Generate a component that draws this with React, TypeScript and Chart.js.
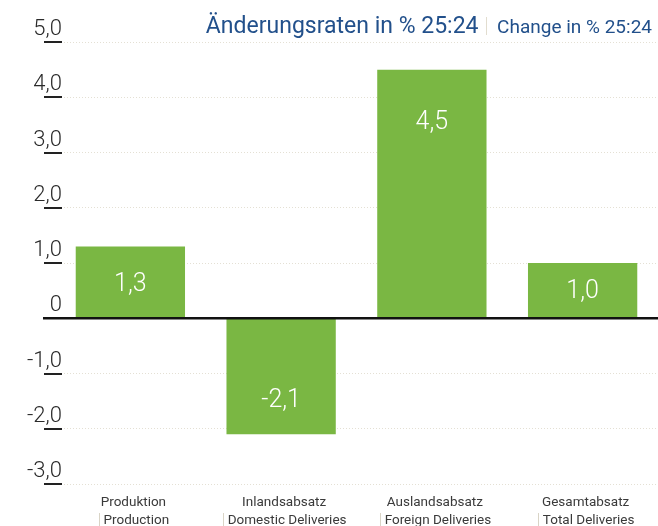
import React, { useEffect, useRef } from "react";
import { Chart, registerables } from "chart.js";

Chart.register(...registerables);

const categoriesDe = ["Produktion", "Inlandsabsatz", "Auslandsabsatz", "Gesamtabsatz"];
const categoriesEn = ["Production", "Domestic Deliveries", "Foreign Deliveries", "Total Deliveries"];
const changeValues = [1.3, -2.1, 4.5, 1.0];
const valueLabels = ["1,3", "-2,1", "4,5", "1,0"];
const labelAnchors = [0.62, -1.48, 3.55, 0.49];
const yTickValues = [-3, -2, -1, 0, 1, 2, 3, 4, 5];
const yTickLabels = ["-3,0", "-2,0", "-1,0", "0", "1,0", "2,0", "3,0", "4,0", "5,0"];
const titleDe = "Änderungsraten in % 25:24";
const titleEn = "Change in % 25:24";

const FONT = 'Roboto, "Noto Sans", sans-serif';
const GREEN = "#7ab743";
const BLUE = "#22508b";

const decor = {
  id: "decor",
  afterDatasetsDraw(chart: any) {
    const ctx = chart.ctx as CanvasRenderingContext2D;
    const ys = chart.scales.y;
    const xs = chart.scales.x;
    const W = chart.width;
    ctx.save();

    // y tick labels and underline tick marks
    ctx.font = `300 22px ${FONT}`;
    ctx.fillStyle = "#2a2a2a";
    ctx.textAlign = "right";
    ctx.textBaseline = "alphabetic";
    ctx.strokeStyle = "#222";
    ctx.lineWidth = 2;
    yTickValues.forEach((v, i) => {
      const py = Math.round(ys.getPixelForValue(v));
      ctx.fillText(yTickLabels[i], 62, py - 7);
      if (v === 0) return;
      ctx.beginPath();
      ctx.moveTo(44, py);
      ctx.lineTo(62, py);
      ctx.stroke();
    });

    // zero line
    const z = ys.getPixelForValue(0);
    ctx.strokeStyle = "#111";
    ctx.lineWidth = 2.6;
    ctx.beginPath();
    ctx.moveTo(43, z);
    ctx.lineTo(W, z);
    ctx.stroke();

    // value labels inside bars
    ctx.fillStyle = "#ffffff";
    ctx.font = `300 25px ${FONT}`;
    ctx.textAlign = "center";
    ctx.textBaseline = "middle";
    const meta = chart.getDatasetMeta(0);
    meta.data.forEach((bar: any, i: number) => {
      ctx.fillText(valueLabels[i], bar.x, ys.getPixelForValue(labelAnchors[i]) + 1);
    });

    // category labels
    const base = chart.chartArea.bottom;
    categoriesDe.forEach((de, i) => {
      const cx = xs.getPixelForTick(i) + 3;
      ctx.font = `400 13.5px ${FONT}`;
      ctx.fillStyle = "#3a3a3a";
      ctx.textAlign = "center";
      ctx.textBaseline = "middle";
      ctx.fillText(de, cx, base + 19);
      const en = categoriesEn[i];
      const w = ctx.measureText(en).width;
      const tx = cx + 3;
      ctx.fillText(en, tx, base + 37);
      ctx.strokeStyle = "#d9d4c6";
      ctx.lineWidth = 1;
      ctx.beginPath();
      ctx.moveTo(Math.round(tx - w / 2 - 5) + 0.5, base + 29);
      ctx.lineTo(Math.round(tx - w / 2 - 5) + 0.5, base + 45);
      ctx.stroke();
    });

    // title
    ctx.textBaseline = "alphabetic";
    ctx.textAlign = "right";
    ctx.fillStyle = BLUE;
    ctx.font = `400 19px ${FONT}`;
    const enRight = 652;
    ctx.fillText(titleEn, enRight, 33);
    const enW = ctx.measureText(titleEn).width;
    const sepX = Math.round(enRight - enW - 11) + 0.5;
    ctx.strokeStyle = "#e2ddcf";
    ctx.lineWidth = 1;
    ctx.beginPath();
    ctx.moveTo(sepX, 17);
    ctx.lineTo(sepX, 35);
    ctx.stroke();
    ctx.font = `400 23px ${FONT}`;
    ctx.fillText(titleDe, sepX - 8, 33);

    ctx.restore();
  },
};

export default function App() {
  const ref = useRef<HTMLCanvasElement | null>(null);

  useEffect(() => {
    document.body.style.margin = "0";
    const canvas = ref.current;
    if (!canvas) return;
    const chart = new Chart(canvas, {
      type: "bar",
      data: {
        labels: categoriesDe,
        datasets: [
          {
            data: changeValues,
            backgroundColor: GREEN,
            borderWidth: 0,
            barPercentage: 0.725,
            categoryPercentage: 1,
          },
        ],
      },
      options: {
        responsive: false,
        animation: false,
        devicePixelRatio: 1,
        layout: { padding: { top: 42, bottom: 42, left: 0, right: -4 } },
        plugins: {
          legend: { display: false },
          title: { display: false },
          tooltip: { enabled: false },
        },
        scales: {
          x: {
            afterFit: (s: any) => {
              s.height = 0;
            },
            ticks: { display: false },
            grid: { display: false },
            border: { display: false },
          },
          y: {
            min: -3,
            max: 5,
            afterFit: (s: any) => {
              s.width = 55;
            },
            afterBuildTicks: (s: any) => {
              s.ticks = yTickValues.map((v) => ({ value: v }));
            },
            ticks: { display: false },
            grid: {
              color: "#e4e0d4",
              lineWidth: 1,
              drawTicks: false,
            },
            border: { display: false, dash: [1, 2] },
          },
        },
      },
      plugins: [decor],
    });
    return () => chart.destroy();
  }, []);

  return (
    <div style={{ width: 658, height: 526, background: "#fff" }}>
      <canvas ref={ref} width={658} height={526} style={{ display: "block" }} />
    </div>
  );
}
